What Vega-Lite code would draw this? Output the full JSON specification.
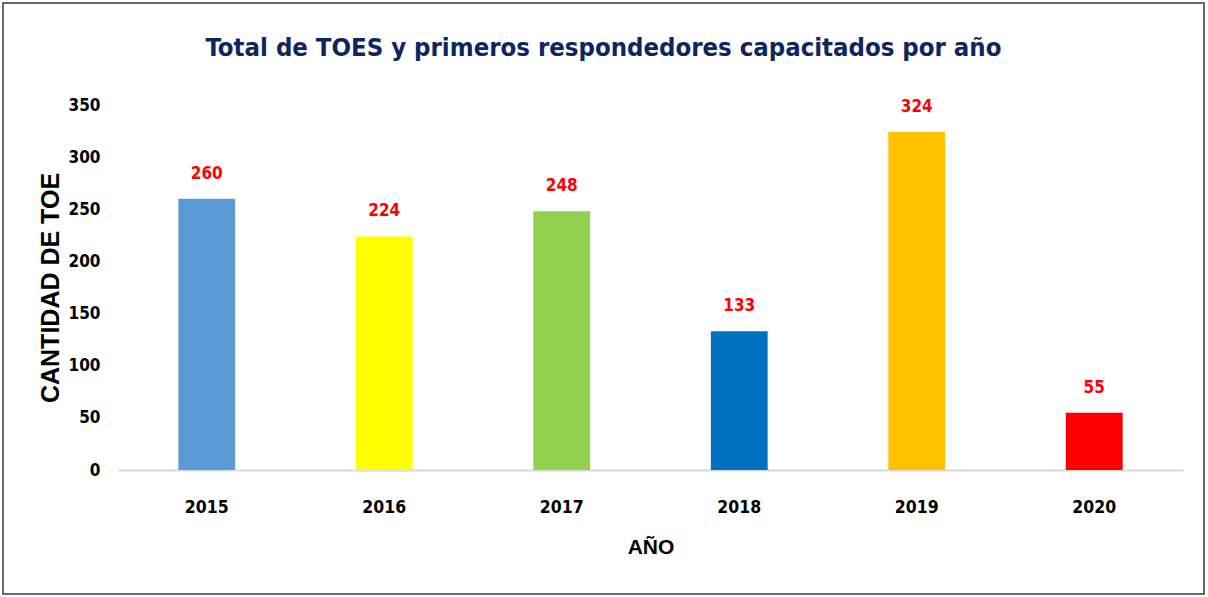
{
  "$schema": "https://vega.github.io/schema/vega-lite/v6.json",
  "width": 1201,
  "height": 591,
  "autosize": {"type": "none"},
  "padding": {"left": 3, "top": 3, "right": 4, "bottom": 3},
  "background": "white",
  "config": {"view": {"stroke": "#3a3a3a", "strokeWidth": 1.5}},
  "title": {
    "text": "Total de TOES y primeros respondedores capacitados por año",
    "font": "DejaVu Sans Condensed, sans-serif",
    "fontWeight": "bold",
    "fontSize": 25.5,
    "color": "#0E2560",
    "anchor": "middle",
    "offset": -58
  },
  "data": {
    "values": [
      {"year": "2015", "value": 260, "color": "#5B9BD5"},
      {"year": "2016", "value": 224, "color": "#FFFF00"},
      {"year": "2017", "value": 248, "color": "#92D050"},
      {"year": "2018", "value": 133, "color": "#0070C0"},
      {"year": "2019", "value": 324, "color": "#FFC000"},
      {"year": "2020", "value": 55, "color": "#FF0000"}
    ]
  },
  "layer": [
    {
      "mark": {"type": "bar"},
      "encoding": {
        "x": {
          "field": "year",
          "type": "nominal",
          "sort": null,
          "scale": {"range": [115, 1180], "paddingInner": 0.68, "paddingOuter": 0.34},
          "axis": {
            "title": "AÑO",
            "offset": -124,
            "ticks": false,
            "grid": false,
            "domainColor": "#D9D9D9",
            "domainWidth": 2,
            "labelAngle": 0,
            "labelPadding": 28,
            "labelFont": "DejaVu Sans Condensed, sans-serif",
            "labelFontSize": 17.5,
            "labelFontWeight": "bold",
            "labelColor": "#000000",
            "titleFont": "Liberation Sans, Arial, sans-serif",
            "titleFontSize": 21,
            "titleFontWeight": "bold",
            "titleColor": "#000000",
            "titlePadding": 21
          }
        },
        "y": {
          "field": "value",
          "type": "quantitative",
          "scale": {"domain": [0, 350], "range": [467, 102], "nice": false},
          "axis": {
            "title": "CANTIDAD DE TOE",
            "values": [0, 50, 100, 150, 200, 250, 300, 350],
            "offset": -115,
            "ticks": false,
            "domain": false,
            "grid": false,
            "labelPadding": 18,
            "labelFont": "DejaVu Sans Condensed, sans-serif",
            "labelFontSize": 17,
            "labelFontWeight": "bold",
            "labelColor": "#000000",
            "titleFont": "Liberation Sans, Arial, sans-serif",
            "titleFontSize": 25,
            "titleFontWeight": "bold",
            "titleColor": "#000000",
            "titlePadding": 5
          }
        },
        "color": {"field": "color", "type": "nominal", "scale": null, "legend": null}
      }
    },
    {
      "mark": {
        "type": "text",
        "baseline": "alphabetic",
        "dy": -20,
        "font": "DejaVu Sans Condensed, sans-serif",
        "fontSize": 17,
        "fontWeight": "bold",
        "color": "#FF0000"
      },
      "encoding": {
        "x": {"field": "year", "type": "nominal", "sort": null},
        "y": {"field": "value", "type": "quantitative"},
        "text": {"field": "value", "type": "quantitative"}
      }
    }
  ]
}
